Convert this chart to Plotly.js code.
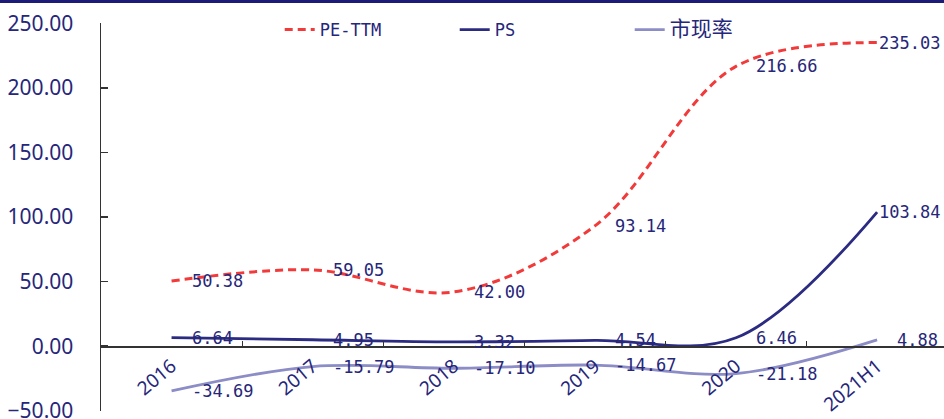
<!DOCTYPE html>
<html>
<head>
<meta charset="utf-8">
<script src="https://cdn.plot.ly/plotly-3.0.1.min.js"></script>
<style>
  html, body { margin: 0; padding: 0; background: #ffffff; }
  #chart { width: 944px; height: 419px; }
</style>
</head>
<body>
<div id="chart"></div>
<script>
// Valuation multiples by period
const periods = ['2016', '2017', '2018', '2019', '2020', '2021H1'];
const peTTM = [50.38, 59.05, 42.00, 93.14, 216.66, 235.03];
const ps = [6.64, 4.95, 3.32, 4.54, 6.46, 103.84];
const pcf = [-34.69, -15.79, -17.10, -14.67, -21.18, 4.88];
const seriesNames = ['PE-TTM', 'PS', '<span style="font-size:21px">市现率</span>'];
const yTicks = [-50, 0, 50, 100, 150, 200, 250];

const navy = '#26267a';
const axisColor = '#333333';

const W = 944, H = 419;
const M = { l: 101, r: 0, t: 23, b: 8 };
const plotH = H - M.t - M.b;

function lineTrace(name, values, color, dash, width) {
  return {
    type: 'scatter',
    mode: 'lines',
    name: name,
    x: periods,
    y: values,
    line: { color: color, dash: dash, width: width, shape: 'spline', smoothing: 1 },
    hoverinfo: 'skip'
  };
}

const traces = [
  lineTrace(seriesNames[0], peTTM, '#f23a3a', '8px,5px', 3),
  lineTrace(seriesNames[1], ps, '#2b2b82', 'solid', 2.8),
  lineTrace(seriesNames[2], pcf, '#8c8cc6', 'solid', 2.8)
];

// Value labels to the right of each point; the last period's PE/PS labels
// are pulled in so they stay inside the canvas. On a category axis the
// annotation x is the category's serial index.
const labelFont = { family: 'DejaVu Sans Mono, monospace', size: 17, color: navy };
const annotations = [];
[[peTTM, true], [ps, true], [pcf, false]].forEach(([vals, tight]) => {
  vals.forEach((v, i) => {
    const last = i === vals.length - 1;
    annotations.push({
      x: i, y: v, xref: 'x', yref: 'y',
      text: v.toFixed(2),
      showarrow: false,
      xanchor: 'left', yanchor: 'middle',
      xshift: (last && tight) ? 0 : 18,
      font: labelFont
    });
  });
});

const layout = {
  width: W, height: H,
  margin: M,
  paper_bgcolor: '#ffffff',
  plot_bgcolor: '#ffffff',
  showlegend: true,
  legend: {
    orientation: 'h',
    x: 0.212, xanchor: 'left',
    y: 1 - 7 / plotH, yanchor: 'middle',
    entrywidth: 130,
    bgcolor: 'rgba(0,0,0,0)',
    font: { family: 'DejaVu Sans Mono, Noto Sans CJK SC, monospace', size: 17, color: navy },
    itemclick: false, itemdoubleclick: false
  },
  xaxis: {
    type: 'category',
    range: [-0.5, 5.474],
    anchor: 'free',
    position: 50.2 / 300.4,
    showline: true, linecolor: axisColor, linewidth: 1.5,
    ticks: 'inside', tickson: 'boundaries', ticklen: 5, tickwidth: 1, tickcolor: axisColor,
    tickangle: -40,
    tickfont: { family: 'Noto Sans, sans-serif', size: 19, color: navy },
    showgrid: false, zeroline: false,
    automargin: false, fixedrange: true
  },
  yaxis: {
    range: [-50.2, 250.2],
    tickvals: yTicks,
    tickformat: '.2f',
    showline: true, linecolor: axisColor, linewidth: 1.5,
    ticks: 'inside', ticklen: 7, tickwidth: 1.5, tickcolor: axisColor,
    ticklabelstandoff: 22,
    ticklabeloverflow: 'allow',
    tickfont: { family: 'Noto Sans, sans-serif', size: 21, color: navy },
    showgrid: false, zeroline: false,
    automargin: false, fixedrange: true
  },
  shapes: [{
    type: 'rect', xref: 'paper', yref: 'paper',
    x0: -0.2, x1: 1.1,
    y0: 1 + (M.t - 3) / plotH, y1: 1 + (M.t + 2) / plotH,
    fillcolor: '#1c1c78', line: { width: 0 }, layer: 'above'
  }],
  annotations: annotations
};

Plotly.newPlot('chart', traces, layout, { displayModeBar: false, staticPlot: true });
</script>
</body>
</html>
